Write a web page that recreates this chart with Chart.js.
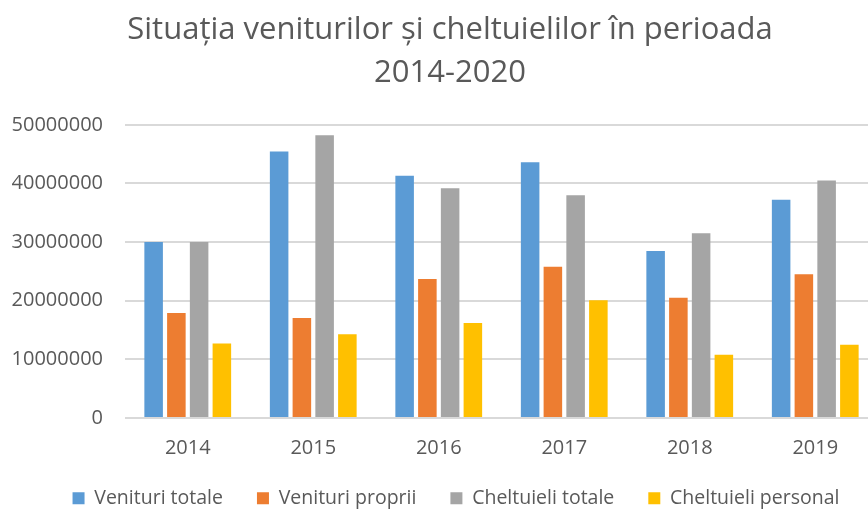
<!DOCTYPE html>
<html>
<head>
<meta charset="utf-8">
<script src="https://cdn.jsdelivr.net/npm/chart.js@4.4.1/dist/chart.umd.min.js"></script>
<style>
  html, body { margin: 0; padding: 0; background: #fff; overflow: hidden; }
  #wrap { width: 868px; height: 510px; overflow: hidden; }
</style>
</head>
<body>
<div id="wrap"><canvas id="c" width="900" height="518"></canvas></div>
<script>
const titleLines = ["Situația veniturilor și cheltuielilor în perioada", "2014-2020"];
const categories = ["2014", "2015", "2016", "2017", "2018", "2019"];
const venituriTotale = [30000000, 45450000, 41300000, 43600000, 28500000, 37200000];
const venituriProprii = [17900000, 17070000, 23700000, 25800000, 20500000, 24500000];
const cheltuieliTotale = [30000000, 48200000, 39200000, 38000000, 31500000, 40500000];
const cheltuieliPersonal = [12700000, 14300000, 16200000, 20100000, 10800000, 12500000];
const seriesNames = ["Venituri totale", "Venituri proprii", "Cheltuieli totale", "Cheltuieli personal"];
const yTicks = [0, 10000000, 20000000, 30000000, 40000000, 50000000];

const colors = ["#5B9BD5", "#ED7D31", "#A5A5A5", "#FFC000"];
const seriesData = [venituriTotale, venituriProprii, cheltuieliTotale, cheltuieliPersonal];
const FONT = "'Open Sans', 'Noto Sans', sans-serif";
const TXT = "#595959";

const legendShift = {
  id: "legendShift",
  afterLayout(chart) {
    if (chart.legend) { chart.legend.left += 6; chart.legend.right += 6; }
  }
};

new Chart(document.getElementById("c"), {
  type: "bar",
  data: {
    labels: categories,
    datasets: seriesNames.map((n, i) => ({
      label: n,
      data: seriesData[i],
      backgroundColor: colors[i],
      borderWidth: 0,
      categoryPercentage: 0.725,
      barPercentage: 0.815
    }))
  },
  plugins: [legendShift],
  options: {
    responsive: false,
    animation: false,
    devicePixelRatio: 1,
    layout: { padding: { left: 12, right: 12, top: 0, bottom: 0 } },
    plugins: {
      title: {
        display: true,
        text: titleLines,
        color: TXT,
        font: { family: FONT, size: 31, weight: "normal", lineHeight: 1.4 },
        padding: { top: 8, bottom: 30 }
      },
      legend: {
        position: "bottom",
        labels: {
          color: TXT,
          boxWidth: 12,
          boxHeight: 12,
          padding: 34,
          font: { family: FONT, size: 19.5 }
        }
      },
      tooltip: { enabled: false }
    },
    scales: {
      x: {
        afterFit: (axis) => { axis.height = 36.5; },
        grid: { display: false, drawTicks: false },
        border: { display: false },
        ticks: { color: TXT, font: { family: FONT, size: 20 }, padding: 18 }
      },
      y: {
        min: 0,
        max: 50000000,
        afterBuildTicks: (axis) => { axis.ticks = yTicks.map(v => ({ value: v })); },
        afterFit: (axis) => { axis.width = 113; },
        grid: { color: "#D9D9D9", lineWidth: 2, drawTicks: false },
        border: { display: false },
        ticks: {
          color: TXT,
          font: { family: FONT, size: 20 },
          padding: 22,
          callback: (v) => String(v)
        }
      },
      spacer: {
        type: "linear",
        position: "right",
        display: true,
        afterFit: (axis) => { axis.width = 10; },
        grid: { display: false, drawTicks: false },
        border: { display: false },
        ticks: { display: false }
      }
    }
  }
});
</script>
</body>
</html>
